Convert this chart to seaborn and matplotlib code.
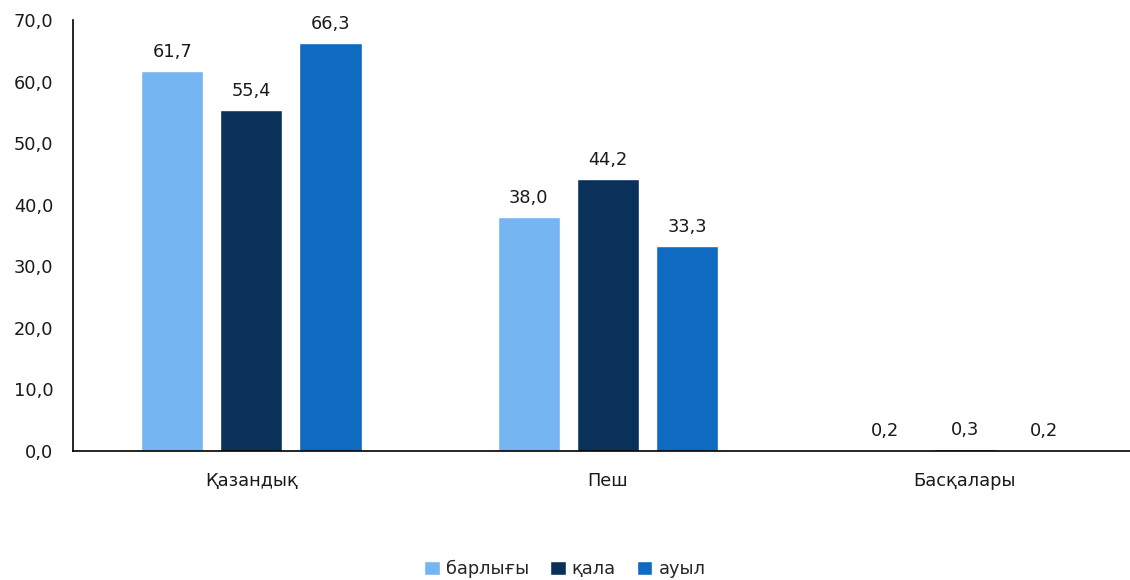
import matplotlib
matplotlib.use("Agg")
import matplotlib.pyplot as plt
import seaborn as sns
import pandas as pd

categories = ["Қазандық", "Пеш", "Басқалары"]
series_names = ["барлығы", "қала", "ауыл"]
total = [61.7, 38.0, 0.2]
urban = [55.4, 44.2, 0.3]
rural = [66.3, 33.3, 0.2]
colors = ["#75B5F2", "#0A3159", "#0F6AC2"]
y_ticks = [0, 10, 20, 30, 40, 50, 60, 70]

sns.set_theme(style="white")
plt.rcParams["font.family"] = ["DejaVu Sans"]
FS = 12.8

rows = []
for name, vals in zip(series_names, [total, urban, rural]):
    for cat, v in zip(categories, vals):
        rows.append({"category": cat, "series": name, "value": v})
df = pd.DataFrame(rows)

fig = plt.figure(figsize=(11.3, 5.8), dpi=100)
ax = fig.add_axes([73 / 1130, 1 - 451 / 580, (1143 - 73) / 1130, (451 - 20) / 580])

sns.barplot(data=df, x="category", y="value", hue="series", order=categories,
            hue_order=series_names, palette=colors, width=0.666, gap=0.216,
            saturation=1, ax=ax, legend=True)

for container in ax.containers:
    labels = [f"{b.get_height():.1f}".replace(".", ",") for b in container]
    ax.bar_label(container, labels=labels, padding=7, fontsize=FS, color="#1a1a1a")

ax.set_ylim(0, 70)
ax.set_xlim(-0.5, 2.5)
ax.set_yticks(y_ticks)
ax.set_yticklabels([f"{t:.1f}".replace(".", ",") for t in y_ticks], fontsize=FS, color="#1a1a1a")
ax.tick_params(axis="x", labelsize=FS, colors="#1a1a1a", pad=15, length=0)
ax.tick_params(axis="y", pad=14, length=0)
ax.set_xlabel("")
ax.set_ylabel("")
for side in ["top", "right"]:
    ax.spines[side].set_visible(False)
ax.spines["left"].set_color("#000000")
ax.spines["bottom"].set_color("#000000")
ax.spines["left"].set_linewidth(1.2)
ax.spines["bottom"].set_linewidth(1.2)

handles, lbls = ax.get_legend_handles_labels()
ax.legend_.remove()
fig.legend(handles, lbls, loc="center", bbox_to_anchor=(0.5, 1 - 569 / 580), ncol=3,
           frameon=False, fontsize=FS, handlelength=0.85, handleheight=0.85,
           handletextpad=0.35, columnspacing=1.2)

fig.savefig("out.png", dpi=100)
